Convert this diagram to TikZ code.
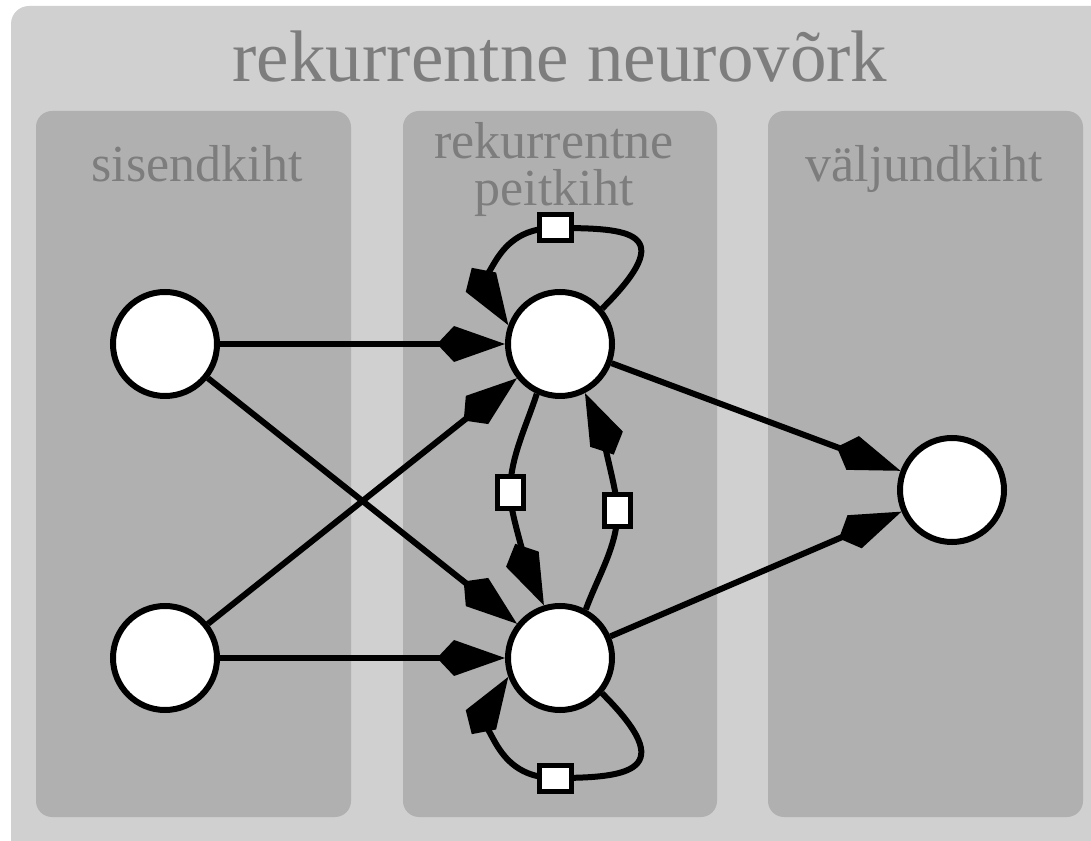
\documentclass[tikz,border=0pt]{standalone}
\usepackage{fontspec}
\setmainfont{Liberation Serif}
\usetikzlibrary{arrows.meta,calc}
\definecolor{outerbg}{RGB}{208,208,208}
\definecolor{layerbg}{RGB}{176,176,176}
\definecolor{labelgray}{RGB}{125,125,125}
\begin{document}
\begin{tikzpicture}[x=1pt,y=1pt,
  layerbox/.style={fill=layerbg, draw=none, rounded corners=16pt},
  neuron/.style={circle, draw=black, fill=white, line width=6pt, minimum size=104pt, inner sep=0pt},
  conn/.style={line width=6pt, -{Kite[length=68pt,width=36pt,inset=17pt]}},
  delay/.style={rectangle, draw=black, fill=white, line width=5pt, minimum width=32pt, minimum height=26pt, inner sep=0pt},
  titletext/.style={text=labelgray, font=\fontsize{73}{80}\selectfont, anchor=base, inner sep=0pt},
  layertext/.style={text=labelgray, font=\fontsize{52}{58}\selectfont, anchor=base, inner sep=0pt}]
\clip (0,0) rectangle (1091,840);
\fill[white] (0,0) rectangle (1091,840);
% outer box
\fill[outerbg, rounded corners=18pt] (11,-40) rectangle (1130,834);
% layer boxes
\fill[layerbox] (36,23) rectangle (351,729);
\fill[layerbox] (403,23) rectangle (717,729);
\fill[layerbox] (768,23) rectangle (1083,729);
% texts
\node[titletext] (title) at (560,758) {rekurrentne neurovõrk};
\node[layertext] (lin) at (197,658) {sisendkiht};
\node[layertext] (lhid1) at (554,681) {rekurrentne};
\node[layertext] (lhid2) at (554,634) {peitkiht};
\node[layertext] (lout) at (924,658) {väljundkiht};
% neurons
\node[neuron] (i1) at (165,496) {};
\node[neuron] (i2) at (165,182) {};
\node[neuron] (h1) at (560,496) {};
\node[neuron] (h2) at (560,182) {};
\node[neuron] (o) at (952,350) {};
% delay positions
\coordinate (stop) at (555,612);
\coordinate (sbot) at (555,62);
\coordinate (sl) at (510,347);
\coordinate (sr) at (617.5,329);
% straight connectors
\draw[conn] (i1) -- (h1);
\draw[conn] (i1) -- (h2);
\draw[conn] (i2) -- (h1);
\draw[conn] (i2) -- (h2);
\draw[conn] (h1) -- (o);
\draw[conn] (h2) -- (o);
% recurrent loops
\draw[conn] (h1.40) .. controls (680,609) and (630,612) .. (stop)
  .. controls (485,612) and ($(h1.160)+(122.5:28)$) .. (h1.160);
\draw[conn] (h2.-40) .. controls (680,69) and (630,62) .. (sbot)
  .. controls (485,62) and ($(h2.200)+(237.5:28)$) .. (h2.200);
\draw[conn] (h1.245) .. controls ($(h1.245)+(252:35)$) and (510,382) .. (sl)
  .. controls (510,322) and ($(h2.107)+(115:15)$) .. (h2.107);
\draw[conn] (h2.62) .. controls ($(h2.62)+(70:35)$) and (617.5,294) .. (sr)
  .. controls (617.5,354) and ($(h1.297)+(295:15)$) .. (h1.297);
% delay squares
\node[delay] (dtop) at (stop) {};
\node[delay] (dbot) at (sbot) {};
\node[delay, rotate=90] (dl) at (sl) {};
\node[delay, rotate=90] (dr) at (sr) {};
\end{tikzpicture}
\end{document}
